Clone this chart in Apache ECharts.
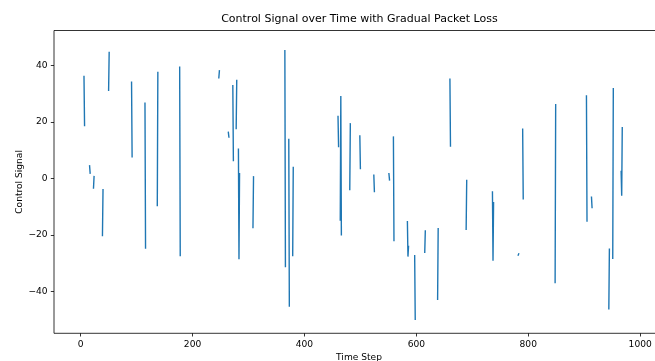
<!DOCTYPE html>
<html><head><meta charset="utf-8">
<script src="https://cdn.jsdelivr.net/npm/echarts@6/dist/echarts.min.js"></script>
<style>html,body{margin:0;padding:0;background:#fff}#c{width:655px;height:361px}</style>
</head><body><div id="c"></div>
<script>
const timeSteps = [
  6, 7, 16, 17, 23, 24, 39, 40, 50, 51, 91, 92, 115, 116, 137, 138, 177, 178,
  247, 248, 264, 265, 272, 273, 278, 279, 282, 283, 284, 308, 309,
  365, 366, 372, 373, 379, 380, 460, 461, 464, 465, 466, 481, 482, 499, 500,
  524, 525, 551, 552, 559, 560, 584, 585, 586, 597, 598, 615, 616, 638, 639,
  660, 661, 689, 690, 736, 737, 738, 782, 783, 790, 791, 848, 849,
  904, 905, 913, 914, 944, 945, 951, 952, 966, 967, 968
];
const signal = [
  36.2, 18.8, 4.5, 1.9, -3.4, 0.7, -20.2, -4.0, 31.3, 44.7, 34.2, 7.7, 26.7, -24.7, -9.6, 37.6, 39.5, -27.3,
  35.7, 38.2, 16.4, 14.7, 32.9, 6.4, 17.7, 34.8, 10.4, -28.6, 1.7, -17.4, 0.6,
  45.3, -31.2, 13.9, -45.2, -27.3, 3.9, 22.0, 11.3, -14.7, 29.3, -20.0, -3.9, 19.4, 15.1, 3.5,
  1.2, -4.6, 1.7, -0.5, 14.7, -22.0, -15.3, -27.7, -24.1, -27.4, -49.9, -26.2, -18.6, -42.8, -17.8,
  35.2, 11.5, -18.0, -0.7, -4.8, -29.2, -8.6, -27.2, -26.7, 17.5, -7.2, -36.9, 26.2,
  29.3, -15.1, -6.6, -10.3, -46.2, -25.1, -28.3, 31.9, 2.5, -6.1, 18.0
];
const xTicks = [0, 200, 400, 600, 800, 1000];
const yTicks = [-40, -20, 0, 20, 40];
const titleText = 'Control Signal over Time with Gradual Packet Loss';
const xName = 'Time Step';
const yName = 'Control Signal';

const data = [];
for (let i = 0; i < timeSteps.length; i++) {
  if (i > 0 && timeSteps[i] - timeSteps[i - 1] > 1) data.push([timeSteps[i - 1] + 1, null]);
  data.push([timeSteps[i], signal[i]]);
}

const FONT = 'DejaVu Sans';
const chart = echarts.init(document.getElementById('c'), null, {renderer: 'canvas'});
chart.setOption({
  animation: false,
  graphic: [{
    type: 'text', x: 359.4, y: 14,
    style: {text: titleText, fill: '#000', font: '11px "DejaVu Sans"', textAlign: 'center', textVerticalAlign: 'top'}
  }],
  grid: {left: 54, width: 610, top: 30.5, height: 302.8, show: true, borderColor: '#000', borderWidth: 0.8,
    backgroundColor: '#fff', containLabel: false, outerBoundsMode: 'none'},
  xAxis: {
    type: 'value', min: -47.6, max: 1042.6,
    name: xName, nameLocation: 'middle', nameGap: 20, nameMoveOverlap: false,
    nameTextStyle: {fontFamily: FONT, fontSize: 9.1, color: '#000', verticalAlign: 'top'},
    axisLine: {show: false, onZero: false},
    axisTick: {show: true, length: 3.2, customValues: xTicks, lineStyle: {color: '#000', width: 0.8}},
    axisLabel: {customValues: xTicks, margin: 6.4, fontFamily: FONT, fontSize: 9.1, color: '#000',
      formatter: v => String(v)},
    splitLine: {show: false}
  },
  yAxis: {
    type: 'value', min: -54.9, max: 52.5,
    name: yName, nameLocation: 'middle', nameGap: 30, nameRotate: 90, nameMoveOverlap: false,
    nameTextStyle: {fontFamily: FONT, fontSize: 9.1, color: '#000'},
    axisLine: {show: false, onZero: false},
    axisTick: {show: true, length: 3.2, customValues: yTicks, lineStyle: {color: '#000', width: 0.8}},
    axisLabel: {customValues: yTicks, margin: 6.4, fontFamily: FONT, fontSize: 9.1, color: '#000',
      formatter: v => String(v).replace('-', '\u2212')},
    splitLine: {show: false}
  },
  series: [{
    type: 'line', data: data, showSymbol: false, symbol: 'none', connectNulls: false,
    lineStyle: {color: '#1f77b4', width: 1.4, cap: 'square'},
    clip: true
  }]
});
</script>
</body></html>
